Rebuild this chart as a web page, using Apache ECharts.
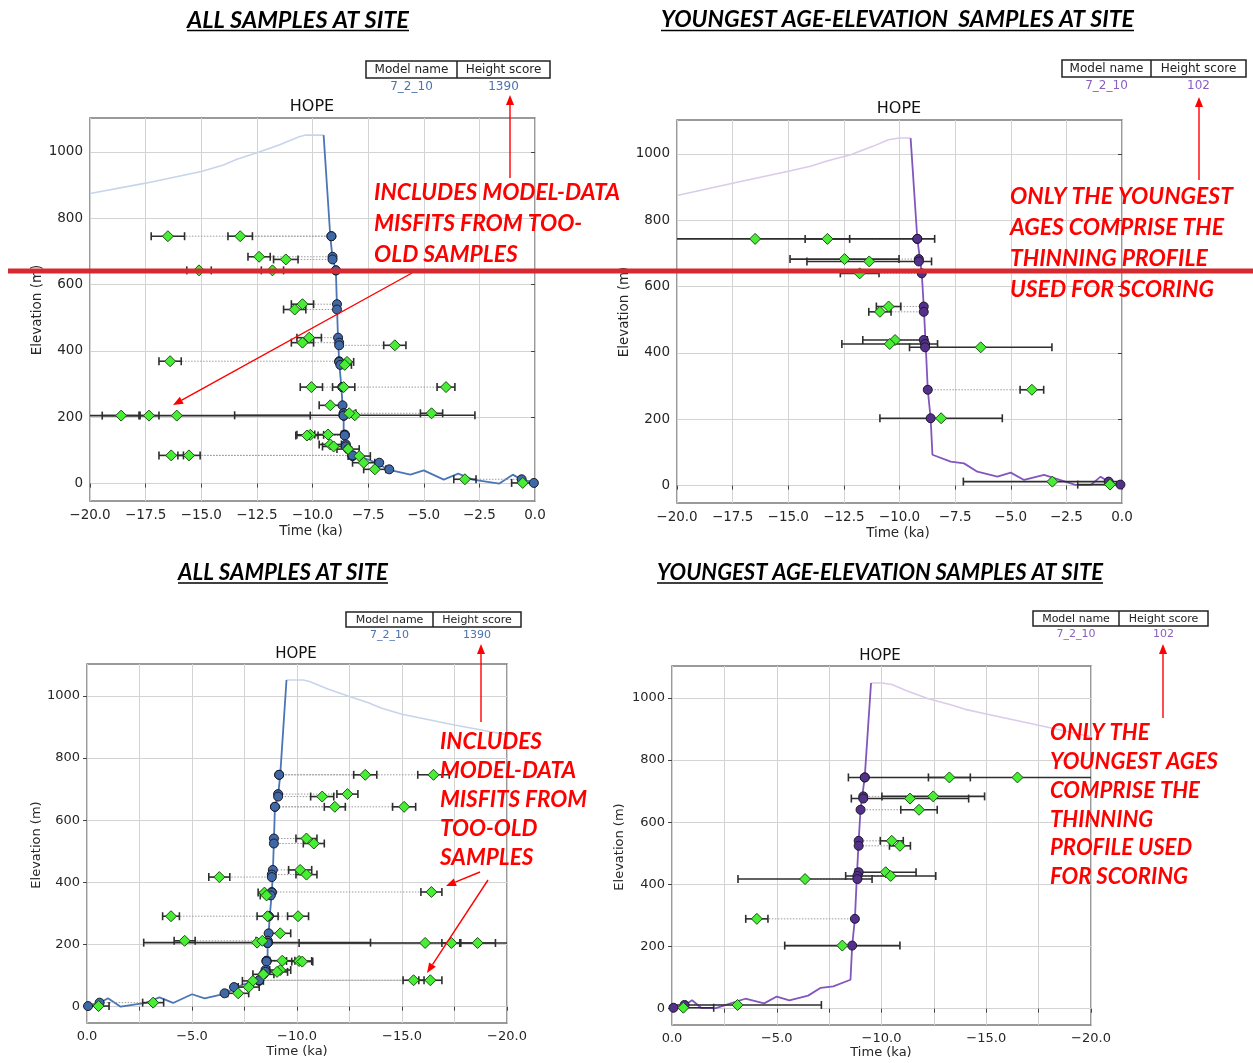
<!DOCTYPE html>
<html><head><meta charset="utf-8">
<script src="https://cdn.jsdelivr.net/npm/echarts@6/dist/echarts.min.js"></script>
<style>html,body{margin:0;padding:0;background:#fff}#c{width:1253px;height:1063px}</style>
</head><body><div id="c"></div>
<script>
// ---------- DATA ----------
const yTicks = [0, 200, 400, 600, 800, 1000];
// All samples at site
const allElev  = [746, 746, 684, 676, 643, 643, 541, 525, 440, 425, 417, 369, 367, 358, 291, 291, 291, 236, 212, 206, 212, 205, 205, 205, 148, 147, 145, 118, 112, 104, 83, 85, 85, 63, 43, 13, 2];
const allAge   = [-16.5, -13.25, -12.4, -11.2, -15.1, -11.8, -10.45, -10.8, -10.15, -10.45, -6.3, -16.4, -8.45, -8.55, -4.0, -8.6, -10.05, -9.2, -4.65, -8.1, -8.35, -16.1, -17.35, -18.6, -9.3, -10.1, -10.25, -9.2, -9.05, -8.4, -7.9, -15.55, -16.35, -7.7, -7.2, -3.15, -0.55];
const allErr   = [0.75, 0.55, 0.5, 0.55, 0.55, 0.5, 0.5, 0.5, 0.55, 0.5, 0.5, 0.5, 0.3, 0.3, 0.4, 0.5, 0.5, 0.5, 0.5, 5.4, 0.3, 6.0, 0.45, 0.85, 0.6, 0.6, 0.5, 0.5, 0.5, 0.5, 0.5, 0.5, 0.55, 0.5, 0.5, 0.5, 0.5];
const allModel = [-9.15, -9.15, -9.1, -9.1, -8.95, -8.95, -8.9, -8.9, -8.85, -8.8, -8.8, -8.8, -8.8, -8.75, -8.65, -8.65, -8.65, -8.65, -8.6, -8.6, -8.6, -8.6, -8.6, -8.6, -8.55, -8.55, -8.55, -8.5, -8.5, -8.4, -8.2, -8.2, -8.2, -7.0, -6.55, -0.6, -0.05];
// Youngest age-elevation samples at site
const yngElev  = [744, 744, 683, 676, 640, 540, 524, 439, 427, 417, 289, 203, 12, 3];
const yngAge   = [-16.49, -13.24, -12.47, -11.36, -11.79, -10.49, -10.88, -10.2, -10.44, -6.35, -4.05, -8.13, -3.13, -0.54];
const yngErr   = [8.07, 1.0, 2.45, 2.8, 0.87, 0.55, 0.5, 1.45, 2.15, 3.2, 0.53, 2.75, 4.0, 1.45];
const yngModel = [-9.2, -9.2, -9.13, -9.13, -9.0, -8.91, -8.91, -8.91, -8.85, -8.85, -8.73, -8.6, -0.6, -0.07];
// Model thinning curve, model 7_2_10 (all-samples panel)
const curveAllPreT = [-20, -17.5, -15, -14, -13.4, -12.5, -11.5, -10.6, -10.3, -9.5];
const curveAllPreE = [875, 906, 941, 961, 978, 998, 1021, 1046, 1051, 1051];
const curveAllT = [-9.5, -9.2, -9.1, -8.95, -8.9, -8.85, -8.8, -8.7, -8.65, -8.6, -8.6, -8.3, -7.1, -6.6, -5.6, -5.0, -4.1, -3.45, -2.8, -1.6, -1.0, -0.6, 0];
const curveAllE = [1051, 745, 680, 643, 534, 430, 365, 290, 235, 200, 145, 93, 62, 42, 27, 40, 12, 30, 12, 0, 27, 12, 4];
// Model thinning curve, model 7_2_10 (youngest panel)
const curveYngPreT = [-20, -17.5, -15, -14, -13.3, -12.2, -11.2, -10.5, -10.0, -9.5];
const curveYngPreE = [875, 912, 948, 963, 978, 998, 1023, 1043, 1048, 1048];
const curveYngT = [-9.5, -9.2, -9.0, -8.91, -8.82, -8.73, -8.6, -8.52, -7.7, -7.1, -6.5, -5.6, -5.0, -4.4, -3.5, -2.8, -2.1, -1.4, -0.96, -0.5, 0];
const curveYngE = [1048, 745, 641, 540, 420, 289, 203, 93, 72, 67, 42, 27, 39, 17, 32, 17, 2, 2, 27, 7, 2];
const modelName = '7_2_10';
const scoreAll = '1390';
const scoreYng = '102';

// ---------- STYLE ----------
const BLUE = '#4a76b5', BLUE_L = '#c6d5ea', BLUE_DOT = '#3e69a6';
const PUR = '#8356bd', PUR_L = '#d9cbea', PUR_DOT = '#55308a';
const GREEN = '#48ee36', GREEN_EDGE = '#1d4f12';
const RED = '#ff0000';
const TICKFONT = 'DejaVu Sans';
const CAL = 'Lato';

const grids = [
  {left: 90, top: 118, width: 445, height: 383},
  {left: 677, top: 120, width: 445, height: 383},
  {left: 87, top: 664, width: 420, height: 359},
  {left: 672, top: 666, width: 419, height: 359}
];

function fmtX(v, every) {
  if (Math.abs(v / every - Math.round(v / every)) > 1e-6) return '';
  return (v < 0 ? '\u2212' : '') + Math.abs(v).toFixed(1);
}
function xAx(gi, inverse, every, fs) {
  return {type: 'value', gridIndex: gi, min: -20, max: 0, interval: 2.5, inverse: inverse,
    axisLine: {show: false},
    axisTick: {show: true, length: 4, lineStyle: {color: '#444'}},
    axisLabel: {fontFamily: TICKFONT, fontSize: fs, color: '#262626', margin: 7, formatter: v => fmtX(v, every)},
    splitLine: {show: true, lineStyle: {color: '#d3d3d3', width: 1}}};
}
function yAx(gi, fs) {
  return {type: 'value', gridIndex: gi, min: -52.5, max: 1102.5,
    axisLine: {show: false},
    axisTick: {show: true, length: 4, customValues: yTicks, lineStyle: {color: '#444'}},
    axisLabel: {fontFamily: TICKFONT, fontSize: fs, color: '#262626', margin: 7, customValues: yTicks, formatter: v => String(Math.round(v))},
    splitLine: {show: true, lineStyle: {color: '#d3d3d3', width: 1}}};
}
function curve(gi, ts, es, color, w) {
  return {type: 'line', xAxisIndex: gi, yAxisIndex: gi, data: ts.map((t, i) => [t, es[i]]),
    symbol: 'none', showSymbol: false, lineStyle: {color: color, width: w}, z: 2, silent: true, animation: false};
}
function errSeries(gi, ages, elevs, errs) {
  return {type: 'custom', xAxisIndex: gi, yAxisIndex: gi, z: 4, silent: true,
    data: ages.map((a, i) => [a, elevs[i], errs[i]]), encode: {x: 0, y: 1},
    renderItem: (params, api) => {
      const cs = params.coordSys;
      const a = api.value(0), e = api.value(1), r = api.value(2);
      const p1 = api.coord([a - r, e]), p2 = api.coord([a + r, e]);
      const xmin = cs.x, xmax = cs.x + cs.width;
      const lo = Math.max(Math.min(p1[0], p2[0]), xmin), hi = Math.min(Math.max(p1[0], p2[0]), xmax);
      const st = {stroke: '#2e2e2e', lineWidth: 1.6};
      const ch = [{type: 'line', shape: {x1: lo, y1: p1[1], x2: hi, y2: p1[1]}, style: st}];
      [p1[0], p2[0]].forEach(x => {
        if (x >= xmin - 0.5 && x <= xmax + 0.5) ch.push({type: 'line', shape: {x1: x, y1: p1[1] - 4, x2: x, y2: p1[1] + 4}, style: st});
      });
      return {type: 'group', children: ch};
    }};
}
function connSeries(gi, ages, elevs, models) {
  return {type: 'custom', xAxisIndex: gi, yAxisIndex: gi, z: 3, silent: true,
    data: ages.map((a, i) => [a, elevs[i], models[i]]), encode: {x: 0, y: 1},
    renderItem: (params, api) => {
      const p1 = api.coord([api.value(0), api.value(1)]), p2 = api.coord([api.value(2), api.value(1)]);
      return {type: 'line', shape: {x1: p1[0], y1: p1[1], x2: p2[0], y2: p2[1]},
        style: {stroke: '#9c9c9c', lineWidth: 1, lineDash: [1.5, 1.5]}};
    }};
}
function dots(gi, ts, es, color, edge) {
  return {type: 'scatter', xAxisIndex: gi, yAxisIndex: gi, data: ts.map((t, i) => [t, es[i]]),
    symbol: 'circle', symbolSize: 9, itemStyle: {color: color, borderColor: edge, borderWidth: 1, opacity: 1}, z: 5, silent: true};
}
function diamonds(gi, ts, es) {
  return {type: 'scatter', xAxisIndex: gi, yAxisIndex: gi, data: ts.map((t, i) => [t, es[i]]),
    symbol: 'diamond', symbolSize: 11, itemStyle: {color: GREEN, borderColor: GREEN_EDGE, borderWidth: 1, opacity: 1}, z: 6, silent: true};
}
function panelSeries(gi, young) {
  const ages = young ? yngAge : allAge, elevs = young ? yngElev : allElev, errs = young ? yngErr : allErr, mods = young ? yngModel : allModel;
  return [
    curve(gi, young ? curveYngPreT : curveAllPreT, young ? curveYngPreE : curveAllPreE, young ? PUR_L : BLUE_L, 1.6),
    curve(gi, young ? curveYngT : curveAllT, young ? curveYngE : curveAllE, young ? PUR : BLUE, 1.8),
    connSeries(gi, ages, elevs, mods),
    errSeries(gi, ages, elevs, errs),
    dots(gi, mods, elevs, young ? PUR_DOT : BLUE_DOT, '#1a1a2a'),
    diamonds(gi, ages, elevs)
  ];
}

// ---------- ANNOTATIONS ----------
const cv = document.createElement('canvas').getContext('2d');
function fit(lines, family, target) {
  cv.font = 'italic bold 100px ' + family;
  let w = 0; lines.forEach(l => { w = Math.max(w, cv.measureText(l).width); });
  return 100 * target / w;
}
const G = [];
function txt(text, x, y, font, fill, align, valign, rot) {
  const o = {type: 'text', x: x, y: y, z: 100, silent: true,
    style: {text: text, font: font, fill: fill, align: align || 'center', verticalAlign: valign || 'middle'}};
  if (rot) o.rotation = rot;
  G.push(o);
}
function ln(x1, y1, x2, y2, color, w) {
  G.push({type: 'line', z: 100, silent: true, shape: {x1, y1, x2, y2}, style: {stroke: color, lineWidth: w}});
}
function arrow(x1, y1, x2, y2) {
  const dx = x2 - x1, dy = y2 - y1, L = Math.hypot(dx, dy), ux = dx / L, uy = dy / L;
  const hl = 10, hw = 4;
  const bx = x2 - ux * hl, by = y2 - uy * hl;
  ln(x1, y1, bx, by, RED, 1.4);
  G.push({type: 'polygon', z: 100, silent: true, shape: {points: [[x2, y2], [bx - uy * hw, by + ux * hw], [bx + uy * hw, by - ux * hw]]}, style: {fill: RED}});
}
function title(text, x, y, target) {
  const s = fit([text], CAL, target);
  txt(text, x, y, 'italic bold ' + s.toFixed(2) + 'px ' + CAL, '#000', 'left', 'middle');
  ln(x, y + 0.45 * s, x + target, y + 0.45 * s, '#000', 1.5);
}
function redBlock(lines, x, y0, dy, target) {
  const s = fit(lines, CAL, target);
  lines.forEach((l, i) => txt(l, x, y0 + i * dy, 'italic bold ' + s.toFixed(2) + 'px ' + CAL, RED, 'left', 'middle'));
}
function table(x, y, w, h, div, score, valY, color, fs) {
  G.push({type: 'rect', z: 100, silent: true, shape: {x: x, y: y, width: w, height: h}, style: {fill: '#fff', stroke: '#222', lineWidth: 1.5}});
  ln(div, y, div, y + h, '#222', 1.5);
  txt('Model name', (x + div) / 2, y + h / 2 + 0.5, fs + 'px ' + TICKFONT, '#222');
  txt('Height score', (div + x + w) / 2, y + h / 2 + 0.5, fs + 'px ' + TICKFONT, '#222');
  txt(modelName, (x + div) / 2, valY, fs + 'px ' + TICKFONT, color);
  txt(score, (div + x + w) / 2, valY, fs + 'px ' + TICKFONT, color);
}

// titles
title('ALL SAMPLES AT SITE', 187, 20, 222);
title('YOUNGEST AGE-ELEVATION  SAMPLES AT SITE', 661, 20, 473);
title('ALL SAMPLES AT SITE', 178, 573, 210);
title('YOUNGEST AGE-ELEVATION SAMPLES AT SITE', 657, 573, 446);
// tables
table(366, 61, 184, 17, 457, scoreAll, 86.5, '#4c72b0', 12);
table(1062, 60, 184, 17, 1151, scoreYng, 85.5, '#8a5fc0', 12);
table(346, 612, 175, 15, 433, scoreAll, 635.5, '#4c72b0', 11);
table(1033, 611, 175, 15, 1119, scoreYng, 634.5, '#8a5fc0', 11);
// panel titles
txt('HOPE', 312, 107, '16px ' + TICKFONT, '#111');
txt('HOPE', 899, 109, '16px ' + TICKFONT, '#111');
txt('HOPE', 296, 654, '15px ' + TICKFONT, '#111');
txt('HOPE', 880, 656, '15px ' + TICKFONT, '#111');
// axis names
txt('Time (ka)', 311, 531, '13.5px ' + TICKFONT, '#262626');
txt('Time (ka)', 898, 533, '13.5px ' + TICKFONT, '#262626');
txt('Time (ka)', 297, 1052, '13px ' + TICKFONT, '#262626');
txt('Time (ka)', 881, 1053, '13px ' + TICKFONT, '#262626');
txt('Elevation (m)', 37, 310, '13.5px ' + TICKFONT, '#262626', 'center', 'middle', Math.PI / 2);
txt('Elevation (m)', 624, 312, '13.5px ' + TICKFONT, '#262626', 'center', 'middle', Math.PI / 2);
txt('Elevation (m)', 37, 845, '13px ' + TICKFONT, '#262626', 'center', 'middle', Math.PI / 2);
txt('Elevation (m)', 620, 847, '13px ' + TICKFONT, '#262626', 'center', 'middle', Math.PI / 2);
// red annotations
redBlock(['INCLUDES MODEL-DATA', 'MISFITS FROM TOO-', 'OLD SAMPLES'], 374, 193, 31, 246);
redBlock(['ONLY THE YOUNGEST', 'AGES COMPRISE THE', 'THINNING PROFILE', 'USED FOR SCORING'], 1010, 197, 31, 223);
redBlock(['INCLUDES', 'MODEL-DATA', 'MISFITS FROM', 'TOO-OLD', 'SAMPLES'], 440, 742, 29, 147);
redBlock(['ONLY THE', 'YOUNGEST AGES', 'COMPRISE THE', 'THINNING', 'PROFILE USED', 'FOR SCORING'], 1050, 733, 28.8, 168);
// arrows
arrow(510, 178, 510, 95);
arrow(412, 273, 173, 405);
arrow(1199, 180, 1199, 97);
arrow(481, 722, 481, 644);
arrow(480, 872, 446, 886);
arrow(488, 880, 427, 973);
arrow(1163, 718, 1163, 644);
// horizontal red rule
ln(8, 271, 1253, 271, '#d52a30', 5);

// ---------- CHART ----------
const chart = echarts.init(document.getElementById('c'), null, {renderer: 'canvas'});
chart.setOption({
  animation: false,
  backgroundColor: '#fff',
  grid: grids.map(g => Object.assign({show: true, borderColor: '#7a7a7a', borderWidth: 1.5, backgroundColor: 'transparent', containLabel: false}, g)),
  xAxis: [xAx(0, false, 2.5, 13.5), xAx(1, false, 2.5, 13.5), xAx(2, true, 5, 13), xAx(3, true, 5, 13)],
  yAxis: [yAx(0, 13.5), yAx(1, 13.5), yAx(2, 13), yAx(3, 13)],
  series: [].concat(panelSeries(0, false), panelSeries(1, true), panelSeries(2, false), panelSeries(3, true)),
  graphic: G
});
</script></body></html>
